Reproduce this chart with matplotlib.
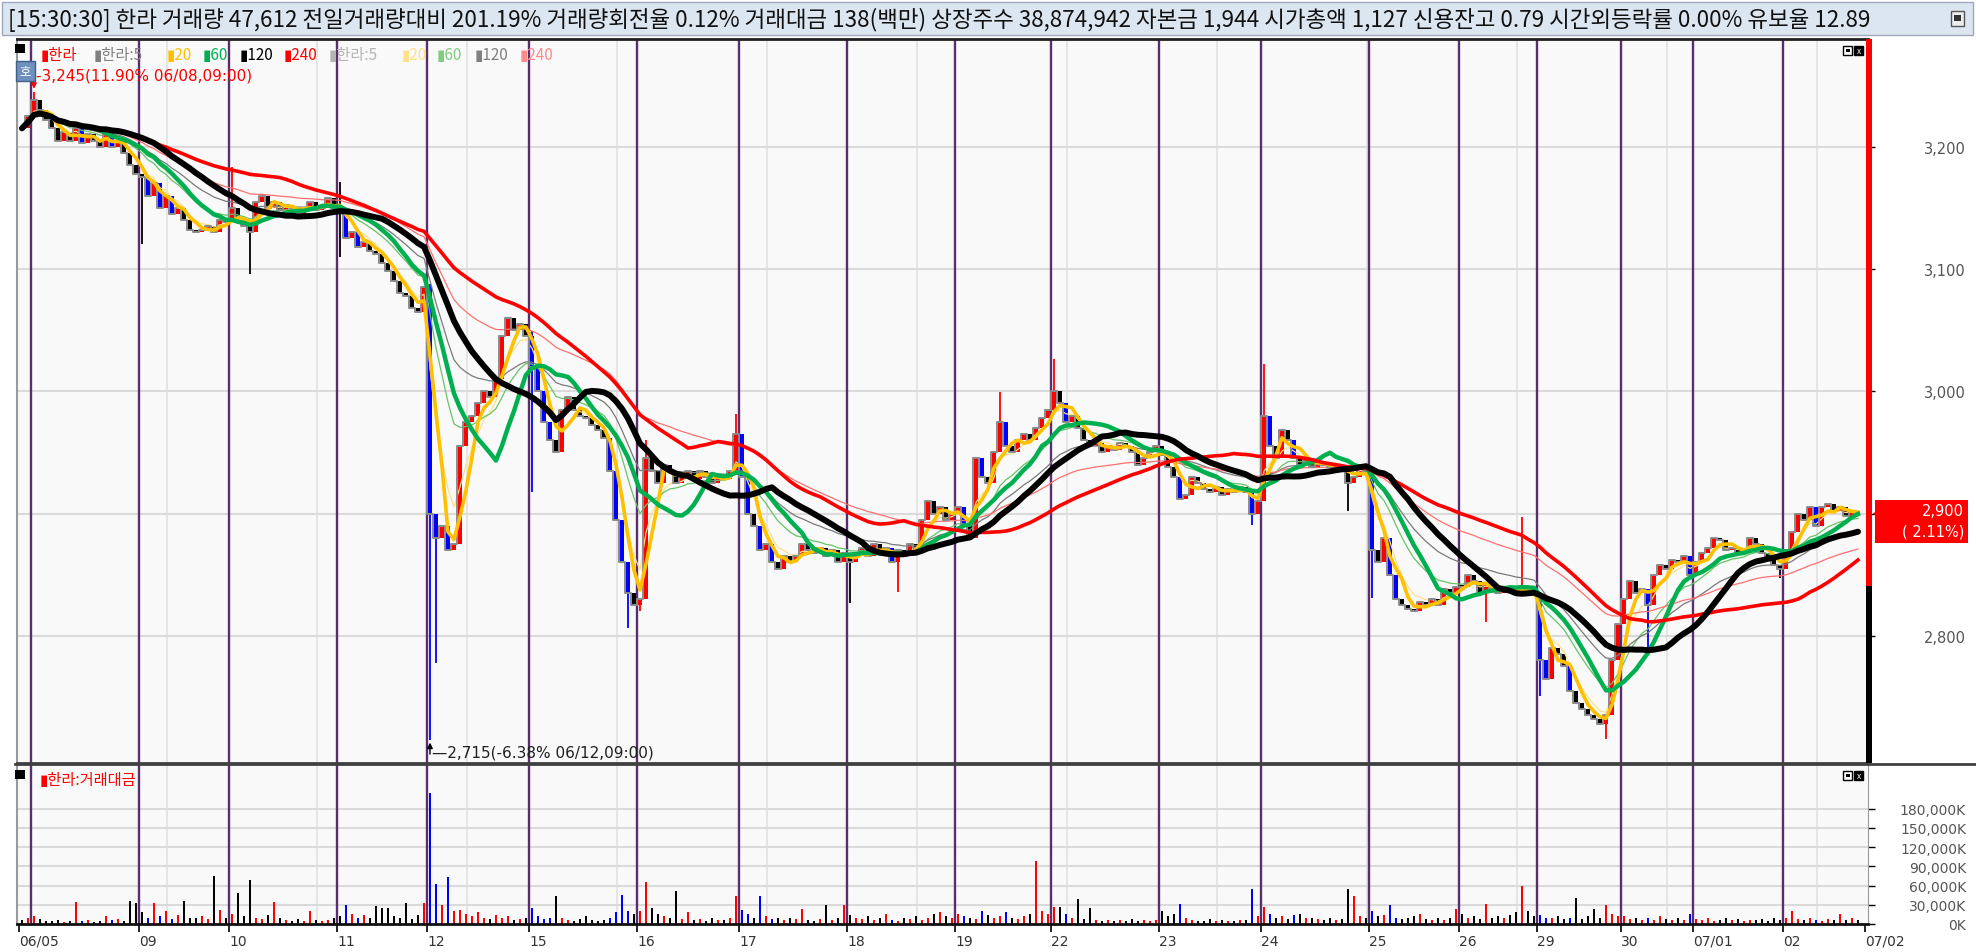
import numpy as np
import pandas as pd
import matplotlib
matplotlib.use("Agg")
import matplotlib.pyplot as plt
from matplotlib.patches import Rectangle, Polygon

plt.rcParams['font.family'] = ['Noto Sans CJK KR', 'DejaVu Sans']

W, H = 1976, 953

# ---- data: coarse intraday closes per day (won) ----
c0605 = [3215, 3225]
c0608 = [3238, 3230, 3222, 3215, 3205, 3212, 3205, 3215, 3203, 3210, 3205, 3200, 3212, 3200, 3205, 3195, 3185, 3178]
c0609 = [3175, 3160, 3170, 3150, 3160, 3145, 3150, 3140, 3132, 3130, 3132, 3135, 3130, 3140, 3138]
c0610 = [3150, 3140, 3135, 3130, 3155, 3160, 3150, 3155, 3148, 3152, 3150, 3145, 3150, 3155, 3148, 3150, 3158, 3150]
c0611 = [3150, 3125, 3130, 3118, 3122, 3115, 3112, 3105, 3098, 3090, 3080, 3078, 3068, 3065, 3085]
c0612 = [2900, 2880, 2890, 2870, 2875, 2955, 2975, 2980, 2990, 3000, 2995, 3010, 3045, 3060, 3050, 3055, 3045]
c0615 = [3020, 3000, 2975, 2960, 2950, 2985, 2995, 2985, 2980, 2978, 2972, 2968, 2962, 2935, 2895, 2860, 2835, 2825]
c0616 = [2830, 2945, 2935, 2925, 2940, 2935, 2925, 2930, 2935, 2928, 2935, 2930, 2925, 2930, 2928, 2935, 2965]
c0617 = [2930, 2900, 2890, 2870, 2875, 2860, 2855, 2865, 2860, 2865, 2875, 2870, 2868, 2872, 2865, 2870, 2860, 2868]
c0618 = [2860, 2868, 2872, 2865, 2875, 2868, 2872, 2860, 2870, 2865, 2875, 2872, 2895, 2910, 2900, 2905, 2895, 2900]
c0619 = [2905, 2890, 2880, 2945, 2930, 2925, 2950, 2975, 2955, 2950, 2960, 2965, 2960, 2970, 2978, 2985]
c0622 = [3000, 2990, 2975, 2980, 2970, 2960, 2955, 2958, 2950, 2955, 2952, 2958, 2955, 2950, 2940, 2945, 2950, 2955]
c0623 = [2948, 2938, 2930, 2912, 2915, 2930, 2925, 2920, 2918, 2922, 2915, 2920, 2918, 2922, 2918, 2900, 2910]
c0624 = [2980, 2955, 2945, 2968, 2960, 2945, 2940, 2945, 2938, 2942, 2940, 2938, 2940, 2935, 2925, 2930, 2940, 2935]
c0625 = [2870, 2860, 2880, 2850, 2830, 2825, 2822, 2820, 2828, 2825, 2830, 2825, 2838, 2835, 2840]
c0626 = [2840, 2850, 2845, 2835, 2842, 2838, 2835, 2840, 2838, 2835, 2840, 2838, 2835]
c0629 = [2780, 2765, 2790, 2785, 2775, 2755, 2745, 2740, 2735, 2732, 2728, 2735, 2780, 2810]
c0630 = [2830, 2845, 2835, 2838, 2825, 2850, 2858, 2855, 2862, 2860, 2865, 2850]
c0701 = [2860, 2868, 2872, 2880, 2878, 2870, 2872, 2868, 2870, 2880, 2875, 2868, 2862, 2858, 2855]
c0702 = [2870, 2885, 2900, 2895, 2905, 2890, 2905, 2908, 2902, 2905, 2898, 2902, 2900]

# trading value per bar (million won)
a0605 = [6, 9]
a0608 = [12, 8, 5, 4, 6, 3, 5, 34, 4, 6, 3, 5, 12, 6, 8, 4, 36, 33]
a0609 = [18, 10, 33, 12, 21, 8, 14, 36, 10, 9, 12, 8, 75, 22, 10]
a0610 = [15, 49, 12, 69, 10, 8, 14, 34, 9, 6, 5, 8, 4, 21, 7, 5, 6, 9]
a0611 = [12, 30, 15, 10, 14, 9, 28, 25, 25, 12, 10, 33, 8, 14, 33]
a0612 = [205, 63, 30, 74, 20, 22, 15, 12, 18, 10, 8, 14, 9, 12, 6, 8, 10]
a0615 = [25, 12, 8, 10, 44, 9, 6, 5, 8, 12, 6, 5, 7, 10, 18, 45, 20, 15]
a0616 = [20, 65, 25, 15, 12, 10, 52, 8, 18, 6, 8, 5, 9, 6, 7, 10, 43]
a0617 = [22, 15, 10, 44, 12, 8, 9, 6, 10, 8, 24, 7, 5, 8, 30, 6, 9, 30]
a0618 = [14, 10, 8, 12, 6, 9, 16, 7, 5, 10, 8, 12, 6, 9, 15, 18, 12, 10]
a0619 = [15, 12, 10, 8, 20, 14, 10, 12, 18, 9, 8, 12, 15, 98, 20, 16]
a0622 = [27, 26, 15, 10, 39, 8, 25, 6, 5, 7, 4, 6, 5, 8, 4, 6, 5, 7]
a0623 = [20, 12, 15, 31, 10, 6, 5, 4, 8, 5, 6, 4, 5, 7, 6, 55, 12]
a0624 = [27, 15, 10, 12, 8, 14, 15, 9, 10, 8, 6, 9, 7, 8, 55, 43, 12, 10]
a0625 = [20, 12, 14, 30, 10, 8, 9, 12, 15, 8, 6, 10, 7, 9, 24]
a0626 = [15, 10, 12, 8, 31, 10, 12, 9, 14, 18, 60, 20, 12]
a0629 = [14, 10, 9, 12, 8, 10, 41, 8, 12, 24, 10, 29, 15, 12]
a0630 = [12, 8, 10, 6, 9, 7, 12, 8, 6, 9, 7, 15]
a0701 = [8, 6, 10, 5, 7, 9, 6, 8, 5, 7, 6, 8, 5, 9, 7]
a0702 = [10, 20, 8, 6, 9, 7, 5, 8, 6, 15, 7, 9, 6]

closes_by_day = [c0605, c0608, c0609, c0610, c0611, c0612, c0615, c0616, c0617, c0618,
                 c0619, c0622, c0623, c0624, c0625, c0626, c0629, c0630, c0701, c0702]
amount_by_day = [a0605, a0608, a0609, a0610, a0611, a0612, a0615, a0616, a0617, a0618,
                 a0619, a0622, a0623, a0624, a0625, a0626, a0629, a0630, a0701, a0702]
day_labels = ["06/05", "", "09", "10", "11", "12", "15", "16", "17", "18", "19",
              "22", "23", "24", "25", "26", "29", "30", "07/01", "02"]

# long wicks (bar index -> price)
wick_low = {20: 3120, 38: 3096, 53: 3110, 68: 2715, 69: 2778, 85: 2918, 101: 2806, 103: 2820,
            138: 2827, 146: 2836, 205: 2891, 221: 2902, 225: 2831, 244: 2811, 253: 2751,
            264: 2716, 271: 2790, 293: 2847}
wick_high = {2: 3245, 35: 3183, 53: 3171, 68: 3088, 85: 3049, 104: 2960, 119: 2981,
             163: 2999, 172: 3026, 207: 3022, 250: 2897}

price_ticks = [2800, 2900, 3000, 3100, 3200]
amount_ticks = [0, 30, 60, 90, 120, 150, 180]

# ---- derived series ----
closes = np.concatenate(closes_by_day).astype(float)
amount = np.concatenate(amount_by_day).astype(float)
n = len(closes)
x = np.arange(n)
day_start = np.cumsum([0] + [len(d) for d in closes_by_day[:-1]])

opens = np.r_[closes[0], closes[:-1]]
highs = np.maximum(opens, closes)
lows = np.minimum(opens, closes)
for i, v in wick_low.items():
    lows[i] = min(lows[i], v)
for i, v in wick_high.items():
    highs[i] = max(highs[i], v)

diff = closes - opens
colors = np.where(diff > 0, '#ff0000', np.where(diff < -10, '#0000ff', '#000000'))

s = pd.Series(closes)

# ---- figure ----
fig = plt.figure(figsize=(W / 100, H / 100), dpi=100)
fig.patch.set_facecolor('white')


def px_rect(x0, y0, x1, y1):
    return [x0 / W, 1 - y1 / H, (x1 - x0) / W, (y1 - y0) / H]


ax = fig.add_axes(px_rect(17, 40, 1868, 764))
axv = fig.add_axes(px_rect(17, 766, 1868, 925))
xlim = (-0.83, 307.67)
for a in (ax, axv):
    a.set_facecolor('#f9f9f9')
    a.set_xlim(*xlim)
    # light time grid every 25 bars
    for g in np.arange(24.17, 307, 25):
        a.axvline(g, color='#e3e3e3', lw=1.3, zorder=0)
    for st in day_start[1:]:
        a.axvline(st - 0.5, color='#5a2d6c', lw=1.7, zorder=1)

ax.set_ylim(2696, 3288)
for p in price_ticks:
    ax.axhline(p, color='#dadada', lw=1.5, zorder=0)

# candles
ax.vlines(x, lows, highs, colors=colors, lw=1.3, zorder=2)
ax.bar(x, np.maximum(np.abs(diff), 1.5), bottom=np.minimum(opens, closes),
       width=0.6, color=colors, zorder=2)

# moving averages (thick: simple, thin: exponential)
ax.plot(x, s.ewm(span=5).mean(), color='#ffe08a', lw=0.9, zorder=3)
ax.plot(x, s.ewm(span=12).mean(), color='#66c466', lw=0.9, zorder=3)
ax.plot(x, s.ewm(span=22).mean(), color='#7a7a7a', lw=0.9, zorder=3)
ax.plot(x, s.ewm(span=44).mean(), color='#ff7070', lw=0.9, zorder=3)
ax.plot(x, s.rolling(1).mean(), color='#8a8a8a', lw=1.4, drawstyle='steps-mid', zorder=3)
ax.plot(x, s.rolling(4, min_periods=1).mean(), color='#ffc000', lw=2.6, zorder=3)
ax.plot(x, s.rolling(12, min_periods=1).mean(), color='#00b050', lw=3.2, zorder=3)
ax.plot(x, s.rolling(44, min_periods=1).mean(), color='#ff0000', lw=2.6, zorder=3)
ax.plot(x, s.rolling(22, min_periods=1).mean(), color='#000000', lw=4.3, zorder=4,
        solid_capstyle='round')

ax.set_xticks([])
ax.yaxis.tick_right()
ax.set_yticks(price_ticks)
# the current-price tag covers the 2,900 label
ax.set_yticklabels(["" if p == 2900 else f"{p:,}" for p in price_ticks])
ax.tick_params(axis='y', length=5, width=1, color='black', labelsize=10.5,
               labelcolor='#555555', pad=(1966 - 1868 - 7) * 0.72)
for t in ax.get_yticklabels():
    t.set_horizontalalignment('right')
    t.set_family('DejaVu Sans')
ax.spines['right'].set_visible(False)
ax.spines['left'].set_color('#9a9a9a')
ax.spines['left'].set_linewidth(1.5)
ax.spines['top'].set_color('#202020')
ax.spines['top'].set_linewidth(2)
ax.spines['bottom'].set_color('#404040')
ax.spines['bottom'].set_linewidth(2)

# annotations of extremes
i_hi = int(np.argmax(highs))
i_lo = int(np.argmin(lows))
ax.annotate('', xy=(i_hi, highs[i_hi]), xytext=(i_hi, highs[i_hi] + 14),
            arrowprops=dict(arrowstyle='-|>', color='red', lw=1, mutation_scale=8), zorder=6)
ax.annotate('', xy=(i_lo, lows[i_lo]), xytext=(i_lo, lows[i_lo] - 14),
            arrowprops=dict(arrowstyle='-|>', color='black', lw=1, mutation_scale=8), zorder=6)
ax.text(i_lo + 0.3, lows[i_lo] - 10, f"\u2014{lows[i_lo]:,.0f}(-6.38% 06/12,09:00)",
        fontsize=11, color='#202020', va='center', ha='left', family='DejaVu Sans', zorder=6)

# volume (trading value)
axv.set_ylim(0, 248)
for v in amount_ticks[1:]:
    axv.axhline(v, color='#dadada', lw=1.5, zorder=0)
axv.bar(x, amount, width=0.35, color=colors, zorder=2)
axv.yaxis.tick_right()
axv.set_yticks(amount_ticks)
axv.set_yticklabels([f"{v * 1000:,}K" for v in amount_ticks])
axv.tick_params(axis='y', length=5, width=1, color='black', labelsize=10,
                labelcolor='#555555', pad=(1966 - 1868 - 7) * 0.72)
for t in axv.get_yticklabels():
    t.set_horizontalalignment('right')
    t.set_family('DejaVu Sans')

tick_pos = [st - 0.5 for st, lb in zip(day_start, day_labels) if lb] + [307.2]
tick_lab = [lb for lb in day_labels if lb] + ["07/02"]
axv.set_xticks(tick_pos)
axv.set_xticklabels(tick_lab)
axv.tick_params(axis='x', length=6, width=1.2, color='black', labelsize=10,
                labelcolor='#333333', pad=1)
for t in axv.get_xticklabels():
    t.set_horizontalalignment('left')
    t.set_family('DejaVu Sans')
axv.spines['top'].set_visible(False)
axv.spines['right'].set_color('#9a9a9a')
axv.spines['left'].set_color('#9a9a9a')
axv.spines['left'].set_linewidth(1.5)
axv.spines['bottom'].set_color('#101010')
axv.spines['bottom'].set_linewidth(2)

# ---- decorations in pixel space ----
deco = fig.add_axes([0, 0, 1, 1], zorder=10)
deco.set_xlim(0, W)
deco.set_ylim(H, 0)
deco.axis('off')
deco.patch.set_alpha(0)


def py(price):
    return H - ax.transData.transform((0, price))[1]


# header
deco.add_patch(Rectangle((2, 3), 1971, 33, fc='#dce6f1', ec='#9eaabb', lw=1))
header = ("[15:30:30] 한라 거래량 47,612 전일거래량대비 201.19% 거래량회전율 0.12% "
          "거래대금 138(백만) 상장주수 38,874,942 자본금 1,944 시가총액 1,127 "
          "신용잔고 0.79 시간외등락률 0.00% 유보율 12.89")
deco.text(8, 20, header, fontsize=16.2, va='center', ha='left', color='#111111')
deco.add_patch(Rectangle((1951, 12), 13, 15, fc='#eeeeee', ec='#555555', lw=1))
deco.add_patch(Rectangle((1954, 16), 7, 6, fc='#333333', ec='none'))

# legend row
deco.add_patch(Rectangle((15, 45), 10, 9, fc='black', ec='none'))
legend_items = [("▮한라", '#ff0000', 41), ("▮한라:5", '#808080', 94), ("▮20", '#ffc000', 167),
                ("▮60", '#00b050', 203), ("▮120", '#000000', 240), ("▮240", '#ff0000', 284),
                ("▮한라:5", '#b4b4b4', 329), ("▮20", '#ffe08a', 402), ("▮60", '#80cc80', 437),
                ("▮120", '#808080', 475), ("▮240", '#ff8a8a', 520)]
for txt, col, xp in legend_items:
    deco.text(xp, 56, txt, fontsize=11, color=col, va='center', ha='left')

# high marker label
deco.add_patch(Rectangle((16, 62), 19, 20, fc='#6f8fbd', ec='#40608a', lw=1))
deco.text(25.5, 72, "호", fontsize=9, color='white', ha='center', va='center')
deco.text(36, 76, f"-{highs[i_hi]:,.0f}(11.90% 06/08,09:00)", fontsize=11, color='red',
          va='center', ha='left', family='DejaVu Sans')

# panel icons
for yy in (47, 772):
    deco.add_patch(Rectangle((1843, yy), 9, 9, fc='white', ec='black', lw=1))
    deco.add_patch(Rectangle((1845.5, yy + 3), 4, 3, fc='black', ec='none'))
    deco.add_patch(Rectangle((1854, yy), 9, 9, fc='black', ec='black', lw=1))
    deco.text(1858.5, yy + 4.5, "x", fontsize=6, color='white', ha='center', va='center')

# volume panel label
deco.add_patch(Rectangle((15, 771), 10, 9, fc='black', ec='none'))
deco.text(40, 781, "▮한라:거래대금", fontsize=11, color='red', va='center', ha='left')

# right-edge strength bar
deco.add_patch(Rectangle((1866, 40), 6, 547, fc='#ff0000', ec='none'))
deco.add_patch(Rectangle((1866, 587), 6, 177, fc='#000000', ec='none'))

# separator line between panels
deco.plot([15, 1976], [765, 765], color='#404040', lw=2)

# current price tag
last = closes[-1]
yl = py(last)
deco.add_patch(Polygon([[1873, yl], [1883, yl - 7], [1883, yl + 7]], closed=True,
                       fc='#ff0000', ec='none'))
deco.add_patch(Rectangle((1875, yl - 14), 93, 43, fc='#ff0000', ec='none'))
deco.text(1964, yl - 3, f"{last:,.0f}", fontsize=10.5, color='white', ha='right', va='center',
          family='DejaVu Sans')
deco.text(1964, yl + 17, "( 2.11%)", fontsize=10.5, color='white', ha='right', va='center',
          family='DejaVu Sans')

fig.savefig("out.png", dpi=100, facecolor='white')
